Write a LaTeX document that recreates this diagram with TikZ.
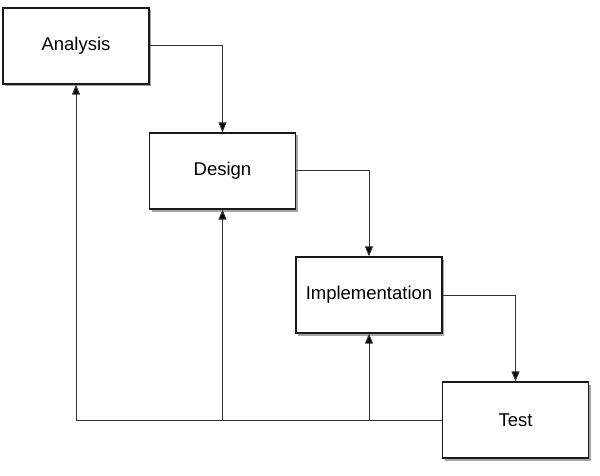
\documentclass[tikz,border=0pt]{standalone}
\usepackage{fontspec}
\setmainfont{Liberation Sans}
\usetikzlibrary{shadows,arrows.meta}
\begin{document}
\begin{tikzpicture}[x=1pt,y=-1pt,
  phase/.style={draw=black!90, line width=1.3pt, fill=white, minimum width=146pt, minimum height=76pt, inner sep=0pt,
    font=\fontsize{18.5}{22}\selectfont,
    drop shadow={shadow xshift=2pt, shadow yshift=-2.5pt, opacity=0.35, fill=black}},
  conn/.style={draw=black!80, line width=1pt},
  arr/.style={conn, -{Triangle[length=10pt,width=8pt,fill=black]}}]
\useasboundingbox (0,0) rectangle (600,476);
\node[phase] (ana) at (76,46) {Analysis};
\node[phase] (des) at (222.5,171) {Design};
\node[phase] (imp) at (369,295) {Implementation};
\node[phase] (tst) at (515.5,420) {Test};
\coordinate (c1) at (222.5,46);
\coordinate (c2) at (369,171);
\coordinate (c3) at (515.5,295);
\coordinate (bl) at (76,420);
\coordinate (bd) at (222.5,420);
\coordinate (bi) at (369,420);
\draw[arr] (ana.east) -- (c1) -- (des.north);
\draw[arr] (des.east) -- (c2) -- (imp.north);
\draw[arr] (imp.east) -- (c3) -- (tst.north);
\draw[arr] (tst.west) -- (bl) -- (ana.south);
\draw[arr] (bd) -- (des.south);
\draw[arr] (bi) -- (imp.south);
\end{tikzpicture}
\end{document}
